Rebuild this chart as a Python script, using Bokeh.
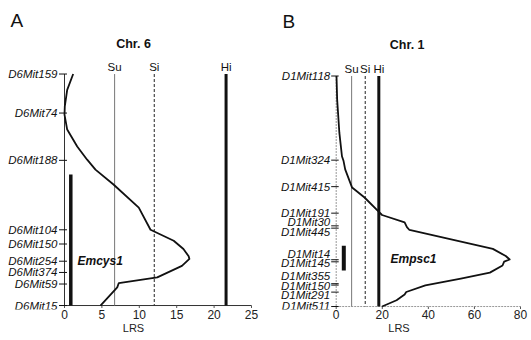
from bokeh.plotting import figure
from bokeh.models import Range1d, FixedTicker, Label
from bokeh.layouts import row
from bokeh.embed import file_html
from bokeh.resources import INLINE
from bokeh.core.properties import value

FONT = "Liberation Sans"

# ---------------- data: Chr. 6 (panel A) ----------------
chr6_markers = ["D6Mit159", "D6Mit74", "D6Mit188", "D6Mit104", "D6Mit150",
                "D6Mit254", "D6Mit374", "D6Mit59", "D6Mit15"]
chr6_cm = [0.0, 11.8, 26.1, 47.1, 51.4, 56.6, 60.0, 63.5, 70.0]
chr6_curve_cm = [0.0, 4.8, 9.8, 12.3, 16.8, 21.9, 25.9, 28.9, 33.4, 40.4, 47.1,
                 50.4, 52.9, 55.1, 55.9, 58.0, 61.5, 63.2, 64.5, 70.0]
chr6_curve_lrs = [1.16, 0.36, 0.04, 0.0, 0.36, 1.70, 3.03, 4.14, 6.55, 9.93, 11.5,
                  14.6, 15.9, 16.6, 16.7, 15.7, 12.4, 7.26, 7.05, 4.81]
chr6_thr_names = ["Su", "Si", "Hi"]
chr6_thr_lrs = [6.7, 12.0, 21.6]
chr6_qtl = "Emcys1"
chr6_ci_cm = [30.4, 70.0]
chr6_xticks = [0, 5, 10, 15, 20, 25]

# ---------------- data: Chr. 1 (panel B) ----------------
chr1_markers = ["D1Mit118", "D1Mit324", "D1Mit415", "D1Mit191", "D1Mit30",
                "D1Mit445", "D1Mit14", "D1Mit145", "D1Mit355", "D1Mit150",
                "D1Mit291", "D1Mit511"]
chr1_cm = [0.0, 36.5, 48.0, 59.5, 65.0, 66.0, 79.7, 80.6, 90.1, 90.7, 93.75, 100.0]
chr1_curve_cm = [0.0, 10.3, 24.7, 34.8, 36.9, 40.5, 48.4, 52.7, 58.5, 60.3, 63.5,
                 65.6, 66.8, 75.0, 78.1, 79.6, 80.5, 82.2, 85.3, 87.9, 90.8, 93.7,
                 94.8, 97.3, 100.0]
chr1_curve_lrs = [0.13, 0.42, 1.38, 2.5, 3.2, 3.9, 6.9, 12.3, 18.1, 19.9, 29.7,
                  30.7, 31.8, 68.0, 73.6, 75.3, 72.9, 72.2, 66.7, 54.1, 38.7, 30.4,
                  29.7, 26.2, 19.9]
chr1_thr_names = ["Su", "Si", "Hi"]
chr1_thr_lrs = [6.7, 12.6, 18.5]
chr1_qtl = "Empsc1"
chr1_ci_cm = [73.6, 84.4]
chr1_xticks = [0, 20, 40, 60, 80]

# ---------------- layout (page pixels) ----------------
H = 336
FRAME_BOTTOM = 311


def make_conv(x0_px, x_scale, y0_px, y_scale):
    return (lambda px: (px - x0_px) / x_scale), (lambda py: (py - y0_px) / y_scale)


def panel(width, fx, fy, page_left, xticks):
    p = figure(width=width, height=H, output_backend="svg", toolbar_location=None,
               title_location=None, y_axis_location=None,
               x_range=Range1d(fx(page_left), fx(page_left + width)),
               y_range=Range1d(fy(FRAME_BOTTOM), fy(0)),
               min_border_left=0, min_border_right=0, min_border_top=0,
               min_border_bottom=H - FRAME_BOTTOM)
    p.outline_line_color = None
    p.grid.visible = False
    p.background_fill_color = "white"
    p.border_fill_color = "white"
    xa = p.xaxis[0]
    xa.ticker = FixedTicker(ticks=xticks)
    xa.axis_line_color = None
    xa.major_tick_in = 0
    xa.major_tick_out = 0
    xa.major_tick_line_color = None
    xa.minor_tick_line_color = None
    xa.major_label_standoff = 0
    xa.major_label_text_font = FONT
    xa.major_label_text_font_size = "12px"
    xa.major_label_text_color = "#222"
    xa.axis_label = "LRS"
    xa.axis_label_standoff = 0
    xa.axis_label_text_font = FONT
    xa.axis_label_text_font_size = "11px"
    xa.axis_label_text_font_style = "normal"
    xa.axis_label_text_color = "#222"
    return p


def draw(p, fx, fy, sx, sy, ymax, xmax, xticks, markers, cm, nudges, label_dx,
         tick_out, tick_in, curve_cm, curve_lrs, thr_names, thr_lrs, ci_cm, ci_px,
         ci_w, qtl, qtl_px, title, title_px, letter, letter_px, thr_label_py,
         axis_color, axis_dash):
    # axis lines
    p.segment(x0=[0], y0=[0], x1=[0], y1=[ymax], line_color=axis_color,
              line_width=1, line_dash=axis_dash)
    p.segment(x0=[0], y0=[ymax], x1=[xmax], y1=[ymax], line_color=axis_color,
              line_width=1, line_dash=axis_dash)
    # small x ticks below the LRS axis line
    k = len(xticks)
    p.segment(x0=xticks, y0=[ymax] * k, x1=xticks, y1=[ymax + 2.5 / sy] * k,
              line_color="#555", line_width=1)
    # marker ticks crossing the chromosome axis
    n = len(markers)
    p.segment(x0=[-tick_out / sx] * n, y0=cm, x1=[tick_in / sx] * n, y1=cm,
              line_color="#111", line_width=1)
    # marker names
    ly = [c + nudges.get(m, 0) / sy for m, c in zip(markers, cm)]
    p.text(x=[0] * n, y=ly, text=markers, x_offset=label_dx, text_align="right",
           text_baseline="middle", text_font=value(FONT), text_font_style="italic",
           text_font_size="11.5px", text_color="#111")
    # thresholds
    styles = {"Su": dict(line_color="#777", line_width=1),
              "Si": dict(line_color="#222", line_width=1, line_dash="3 2"),
              "Hi": dict(line_color="#111", line_width=3)}
    for nm, v in zip(thr_names, thr_lrs):
        p.segment(x0=[v], y0=[0], x1=[v], y1=[ymax], **styles[nm])
        p.add_layout(Label(x=v, y=fy(thr_label_py), text=nm, text_align="center",
                           text_baseline="middle", text_font=FONT,
                           text_font_size="11.5px", text_color="#111"))
    # LRS curve
    p.line(curve_lrs, curve_cm, line_color="#111", line_width=1.8,
           line_join="round")
    # QTL confidence bar
    cx = fx(ci_px)
    p.segment(x0=[cx], y0=[ci_cm[0]], x1=[cx], y1=[ci_cm[1]],
              line_color="#111", line_width=ci_w, line_cap="butt")
    p.add_layout(Label(x=fx(qtl_px[0]), y=fy(qtl_px[1]), text=qtl, text_align="left",
                       text_baseline="middle", text_font=FONT,
                       text_font_style="bold italic", text_font_size="12px",
                       text_color="#111"))
    p.add_layout(Label(x=fx(title_px[0]), y=fy(title_px[1]), text=title,
                       text_align="center", text_baseline="middle", text_font=FONT,
                       text_font_style="bold", text_font_size="12.5px",
                       text_color="#111"))
    p.add_layout(Label(x=fx(letter_px[0]), y=fy(letter_px[1]), text=letter,
                       text_align="left", text_baseline="middle", text_font=FONT,
                       text_font_size="19px", text_color="#111"))


# Panel A: LRS 0 at x=64, 25 at x=251; 0 cM at y=74, 70 cM at y=307
sxA = (251 - 64) / 25
syA = (307 - 74) / 70
fxA, fyA = make_conv(64, sxA, 74, syA)
pA = panel(266, fxA, fyA, 0, chr6_xticks)
draw(pA, fxA, fyA, sxA, syA, 70, 25, chr6_xticks, chr6_markers, chr6_cm, {}, -7,
     5.5, 2.5, chr6_curve_cm, chr6_curve_lrs, chr6_thr_names, chr6_thr_lrs,
     chr6_ci_cm, 70.3, 3.5, chr6_qtl, (77, 262), "Chr. 6", (133, 44), "A", (10, 20),
     67, "#333", "solid")

# Panel B: LRS 0 at x=335.7, 80 at x=520; 0 cM at y=76, 100 cM at y=308
sxB = (520 - 335.7) / 80
syB = (308 - 76) / 100
fxB, fyB = make_conv(335.7, sxB, 76, syB)
pB = panel(265, fxB, fyB, 266, chr1_xticks)
nudgesB = {"D1Mit30": -3.7, "D1Mit445": 3.5, "D1Mit14": -5.5, "D1Mit145": 1.0,
           "D1Mit355": -7.5, "D1Mit150": 0.5, "D1Mit291": 3.0, "D1Mit511": -1.0}
draw(pB, fxB, fyB, sxB, syB, 100, 80, chr1_xticks, chr1_markers, chr1_cm, nudgesB,
     -6, 5, 2.5, chr1_curve_cm, chr1_curve_lrs, chr1_thr_names, chr1_thr_lrs,
     chr1_ci_cm, 343.3, 4, chr1_qtl, (390, 260), "Chr. 1", (406.7, 45), "B",
     (282, 21), 69, "#999", "2 1")

layout = row(pA, pB)
open("out.html", "w").write(file_html(layout, INLINE))
